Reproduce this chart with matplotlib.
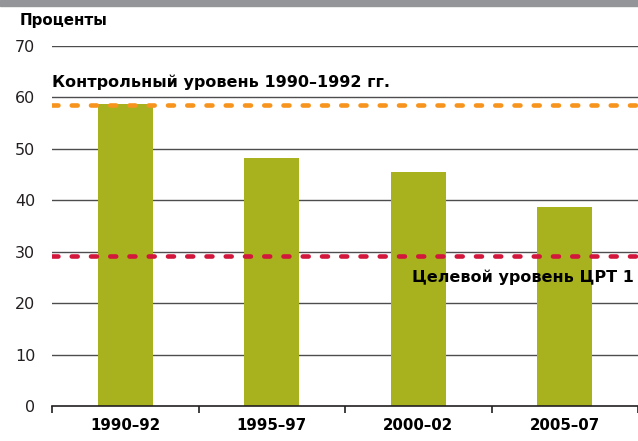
import numpy as np
import matplotlib.pyplot as plt
from matplotlib.patches import Rectangle

plt.rcParams['font.family'] = ['DejaVu Sans']

periods = ["1990–92", "1995–97", "2000–02", "2005–07"]
values = [58.7, 48.2, 45.5, 38.7]
baseline = 58.6
target = 29.2
yticks = [0, 10, 20, 30, 40, 50, 60, 70]

fig = plt.figure(figsize=(6.38, 4.41), dpi=100)
ax = fig.add_axes([52/638, 35/441, 1 - 52/638, 360/441])

# grey band at the top
fig.patches.append(Rectangle((0, 1 - 6/441), 1, 6/441, transform=fig.transFigure,
                             color="#939598", zorder=0))

x = np.arange(len(periods))
ax.bar(x, values, width=0.375, color="#a8b11e", zorder=2)

for y in yticks[1:]:
    ax.axhline(y, color="#4d4d4f", lw=1, zorder=1)

ax.axhline(baseline, color="#f7941d", lw=3.3, ls=(0, (1.3, 2.9)),
           dash_capstyle="round", zorder=3)
ax.axhline(target, color="#d2163c", lw=3.3, ls=(0, (1.3, 2.9)),
           dash_capstyle="round", zorder=3)

ax.set_xlim(-0.5, 3.5)
ax.set_ylim(0, 70)
ax.set_yticks(yticks)
ax.set_xticks(x)
ax.set_xticklabels(periods, fontweight="bold", fontsize=10.8)
ax.set_xticks(np.arange(-0.5, 4, 1), minor=True)
ax.tick_params(axis="x", which="major", length=0, pad=9)
ax.tick_params(axis="x", which="minor", length=5, width=1.2, direction="out", color="#231f20")
ax.tick_params(axis="y", length=0, labelsize=11.5, pad=12, labelcolor="#231f20")

for s in ["left", "right", "top"]:
    ax.spines[s].set_visible(False)
ax.spines["bottom"].set_color("#231f20")
ax.spines["bottom"].set_linewidth(1.2)

fig.text(20/638, 1 - 20/441, "Проценты", fontweight="bold", fontsize=10.8,
         ha="left", va="center")

ax.text(-0.5, 63, "Контрольный уровень 1990–1992 гг.", fontweight="bold",
        fontsize=11.5, ha="left", va="center", zorder=4)
ax.text(3.47, 25.1, "Целевой уровень ЦРТ 1", fontweight="bold",
        fontsize=11.5, ha="right", va="center", zorder=4)

plt.savefig("out.png", dpi=100)
